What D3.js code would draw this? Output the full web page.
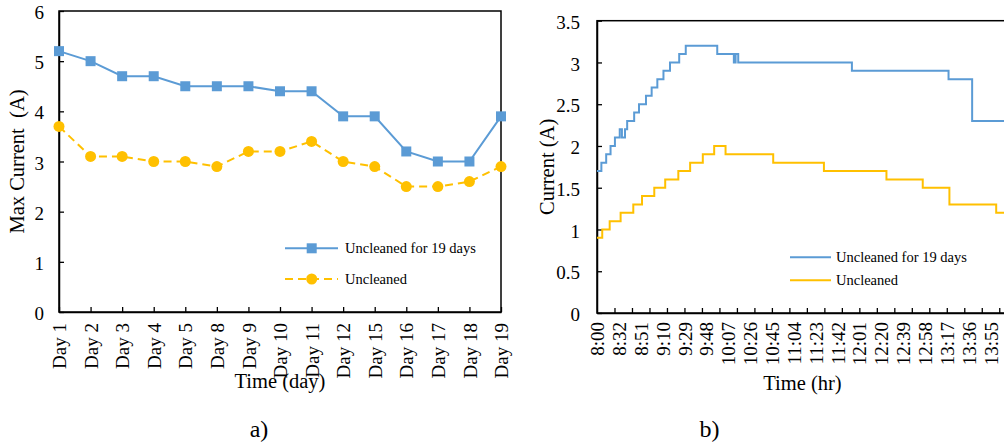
<!DOCTYPE html>
<html>
<head>
<meta charset="utf-8">
<script src="https://cdn.jsdelivr.net/npm/d3@7"></script>
<style>
  body { margin: 0; background: #fff; }
  svg text { font-family: "Liberation Serif", "Times New Roman", serif !important; fill: #000; }
</style>
</head>
<body>
<div id="wrapper"></div>
<script>
// a) daily max current
const dayLabels = ["Day 1", "Day 2", "Day 3", "Day 4", "Day 5", "Day 8", "Day 9", "Day 10",
  "Day 11", "Day 12", "Day 15", "Day 16", "Day 17", "Day 18", "Day 19"]
const maxCurrent19 = [5.2, 5.0, 4.7, 4.7, 4.5, 4.5, 4.5, 4.4, 4.4, 3.9, 3.9, 3.2, 3.0, 3.0, 3.9]
const maxCurrentUnc = [3.7, 3.1, 3.1, 3.0, 3.0, 2.9, 3.2, 3.2, 3.4, 3.0, 2.9, 2.5, 2.5, 2.6, 2.9]
const maxTicks = [0, 1, 2, 3, 4, 5, 6]

// b) current over one day, category index where the value changes
const timeLabels = ["8:00", "8:32", "8:51", "9:10", "9:29", "9:48", "10:07", "10:26", "10:45",
  "11:04", "11:23", "11:42", "12:01", "12:20", "12:39", "12:58", "13:17", "13:36", "13:55"]
const stepIndex19 = [0, 1, 2.1, 3.1, 4.1, 5.2, 5.7, 6.4, 6.9, 8.5, 9.6, 11.2, 12.5, 13.8, 15.2,
  16.7, 18.8, 20.3, 27.5, 31.3, 31.7, 32.3, 58.3, 80.4, 85.8, 94]
const stepValue19 = [1.7, 1.8, 1.9, 2.0, 2.1, 2.2, 2.1, 2.2, 2.3, 2.4, 2.5, 2.6, 2.7, 2.8, 2.9,
  3.0, 3.1, 3.2, 3.1, 3.0, 3.1, 3.0, 2.9, 2.8, 2.3, 2.3]
const stepIndexUnc = [0, 1.2, 2.9, 5.4, 8.3, 10.3, 13.1, 15.6, 18.6, 21.3, 24.2, 26.8, 29.4,
  40.3, 51.9, 66.2, 74.5, 80.6, 91.3, 94]
const stepValueUnc = [0.9, 1.0, 1.1, 1.2, 1.3, 1.4, 1.5, 1.6, 1.7, 1.8, 1.9, 2.0, 1.9,
  1.8, 1.7, 1.6, 1.5, 1.3, 1.2, 1.2]
const currentTicks = [0, 0.5, 1, 1.5, 2, 2.5, 3, 3.5]

const blue = "#5b9bd5"
const yellow = "#ffc000"
const serif = '"Liberation Serif", "Times New Roman", serif'

function drawCharts() {
  const wrapper = d3.select("#wrapper")
    .append("svg")
      .attr("width", 1004)
      .attr("height", 446)

  // ---------- chart a ----------
  const a = { left: 59, right: 501, top: 11, bottom: 312 }

  const xDay = d3.scalePoint()
    .domain(dayLabels)
    .range([a.left, a.right])

  const yMax = d3.scaleLinear()
    .domain([0, 6])
    .range([a.bottom, a.top])

  wrapper.append("rect")
      .attr("x", a.left)
      .attr("y", a.top)
      .attr("width", a.right - a.left)
      .attr("height", a.bottom - a.top)
      .attr("fill", "none")
      .attr("stroke", "#000")
      .attr("stroke-width", 1.5)

  const yAxisA = wrapper.append("g")
      .attr("transform", `translate(${a.left},0)`)
      .call(d3.axisLeft(yMax).tickValues(maxTicks).tickFormat(d3.format("d"))
        .tickSizeInner(-5).tickSizeOuter(0).tickPadding(15))
  styleAxis(yAxisA)
  yAxisA.selectAll("text").attr("dy", "0.4em")

  const xAxisA = wrapper.append("g")
      .attr("transform", `translate(0,${a.bottom})`)
      .call(d3.axisBottom(xDay).tickSizeInner(-5).tickSizeOuter(0))
  styleAxis(xAxisA)
  rotateLabels(xAxisA, 11)

  const lineA = (vals) => d3.line()
    .x((d, i) => xDay(dayLabels[i]))
    .y(d => yMax(d))(vals)

  wrapper.append("path")
      .attr("d", lineA(maxCurrent19))
      .attr("fill", "none")
      .attr("stroke", blue)
      .attr("stroke-width", 2)

  wrapper.append("path")
      .attr("d", lineA(maxCurrentUnc))
      .attr("fill", "none")
      .attr("stroke", yellow)
      .attr("stroke-width", 2)
      .attr("stroke-dasharray", "8,5")

  wrapper.selectAll(".sq")
    .data(maxCurrent19)
    .enter().append("rect")
      .attr("x", (d, i) => xDay(dayLabels[i]) - 5)
      .attr("y", d => yMax(d) - 5)
      .attr("width", 10)
      .attr("height", 10)
      .attr("fill", blue)

  wrapper.selectAll(".dot")
    .data(maxCurrentUnc)
    .enter().append("circle")
      .attr("cx", (d, i) => xDay(dayLabels[i]))
      .attr("cy", d => yMax(d))
      .attr("r", 5.5)
      .attr("fill", yellow)

  // legend a
  wrapper.append("line")
      .attr("x1", 285).attr("x2", 338).attr("y1", 248.3).attr("y2", 248.3)
      .attr("stroke", blue).attr("stroke-width", 2)
  wrapper.append("rect")
      .attr("x", 306.7).attr("y", 243.3).attr("width", 10).attr("height", 10)
      .attr("fill", blue)
  wrapper.append("text")
      .attr("x", 345).attr("y", 253)
      .style("font-size", "14.5px")
      .text("Uncleaned for 19 days")

  wrapper.append("line")
      .attr("x1", 285).attr("x2", 338).attr("y1", 279).attr("y2", 279)
      .attr("stroke", yellow).attr("stroke-width", 2)
      .attr("stroke-dasharray", "8,5")
  wrapper.append("circle")
      .attr("cx", 311.7).attr("cy", 279).attr("r", 5.5)
      .attr("fill", yellow)
  wrapper.append("text")
      .attr("x", 345).attr("y", 284)
      .style("font-size", "14.5px")
      .text("Uncleaned")

  wrapper.append("text")
      .attr("transform", "rotate(-90)")
      .attr("x", -(a.top + a.bottom) / 2)
      .attr("y", 24)
      .attr("text-anchor", "middle")
      .style("font-size", "20.5px")
      .style("white-space", "pre")
      .text("Max Current  (A)")

  wrapper.append("text")
      .attr("x", (a.left + a.right) / 2)
      .attr("y", 388)
      .attr("text-anchor", "middle")
      .style("font-size", "20.5px")
      .text("Time (day)")

  wrapper.append("text")
      .attr("x", 259)
      .attr("y", 437)
      .attr("text-anchor", "middle")
      .style("font-size", "24px")
      .text("a)")

  // ---------- chart b ----------
  const b = { left: 597, right: 1008, top: 20.7, bottom: 313 }

  const xIdx = d3.scaleLinear()
    .domain([0, 94])
    .range([b.left, b.right])

  const yCur = d3.scaleLinear()
    .domain([0, 3.5])
    .range([b.bottom, b.top])

  wrapper.append("rect")
      .attr("x", b.left)
      .attr("y", b.top)
      .attr("width", b.right - b.left)
      .attr("height", b.bottom - b.top)
      .attr("fill", "none")
      .attr("stroke", "#000")
      .attr("stroke-width", 1.5)

  const yAxisB = wrapper.append("g")
      .attr("transform", `translate(${b.left},0)`)
      .call(d3.axisLeft(yCur).tickValues(currentTicks).tickFormat(d3.format("~g"))
        .tickSizeInner(-5).tickSizeOuter(0).tickPadding(17))
  styleAxis(yAxisB)
  yAxisB.selectAll("text").attr("dy", "0.4em")

  const tickIdx = d3.range(4, 94, 4)
  const xTicksB = wrapper.append("g")
      .attr("transform", `translate(0,${b.bottom})`)
      .call(d3.axisBottom(xIdx).tickValues(tickIdx).tickFormat("").tickSizeInner(-5).tickSizeOuter(0))
  styleAxis(xTicksB)

  const labelIdx = timeLabels.map((t, i) => i * 5)
  const xLabelsB = wrapper.append("g")
      .attr("transform", `translate(0,${b.bottom})`)
      .call(d3.axisBottom(xIdx).tickValues(labelIdx)
        .tickFormat((d, i) => timeLabels[i]).tickSize(0))
  styleAxis(xLabelsB)
  xLabelsB.select(".domain").remove()
  rotateLabels(xLabelsB, 9)

  wrapper.append("clipPath")
      .attr("id", "plot-b")
    .append("rect")
      .attr("x", b.left)
      .attr("y", b.top)
      .attr("width", b.right - b.left)
      .attr("height", b.bottom - b.top)

  const stepLine = d3.line()
    .x(d => xIdx(d[0]))
    .y(d => yCur(d[1]))
    .curve(d3.curveStepAfter)

  wrapper.append("path")
      .attr("clip-path", "url(#plot-b)")
      .attr("d", stepLine(d3.zip(stepIndex19, stepValue19)))
      .attr("fill", "none")
      .attr("stroke", blue)
      .attr("stroke-width", 2)

  wrapper.append("path")
      .attr("clip-path", "url(#plot-b)")
      .attr("d", stepLine(d3.zip(stepIndexUnc, stepValueUnc)))
      .attr("fill", "none")
      .attr("stroke", yellow)
      .attr("stroke-width", 2)

  // legend b
  wrapper.append("line")
      .attr("x1", 790).attr("x2", 831).attr("y1", 257.3).attr("y2", 257.3)
      .attr("stroke", blue).attr("stroke-width", 2)
  wrapper.append("text")
      .attr("x", 836).attr("y", 262)
      .style("font-size", "14.5px")
      .text("Uncleaned for 19 days")

  wrapper.append("line")
      .attr("x1", 790).attr("x2", 831).attr("y1", 280.3).attr("y2", 280.3)
      .attr("stroke", yellow).attr("stroke-width", 2)
  wrapper.append("text")
      .attr("x", 836).attr("y", 285)
      .style("font-size", "14.5px")
      .text("Uncleaned")

  wrapper.append("text")
      .attr("transform", "rotate(-90)")
      .attr("x", -(b.top + b.bottom) / 2)
      .attr("y", 554)
      .attr("text-anchor", "middle")
      .style("font-size", "20.5px")
      .text("Current (A)")

  wrapper.append("text")
      .attr("x", (b.left + b.right) / 2)
      .attr("y", 390)
      .attr("text-anchor", "middle")
      .style("font-size", "20.5px")
      .text("Time (hr)")

  wrapper.append("text")
      .attr("x", 709.5)
      .attr("y", 437)
      .attr("text-anchor", "middle")
      .style("font-size", "24px")
      .text("b)")
}

function styleAxis(axis) {
  axis.attr("font-family", serif).attr("font-size", 19)
  axis.select(".domain").attr("stroke", "#000").attr("stroke-width", 1.5)
  axis.selectAll(".tick line").attr("stroke", "#000").attr("stroke-width", 1.3)
  axis.selectAll(".tick text")
      .attr("fill", "#000")
      .style("font-size", "19px")
}

function rotateLabels(axis, gap) {
  axis.selectAll(".tick text")
      .attr("transform", "rotate(-90)")
      .attr("x", -gap)
      .attr("y", 0)
      .attr("dy", "0.35em")
      .attr("text-anchor", "end")
}

drawCharts()
</script>
</body>
</html>
